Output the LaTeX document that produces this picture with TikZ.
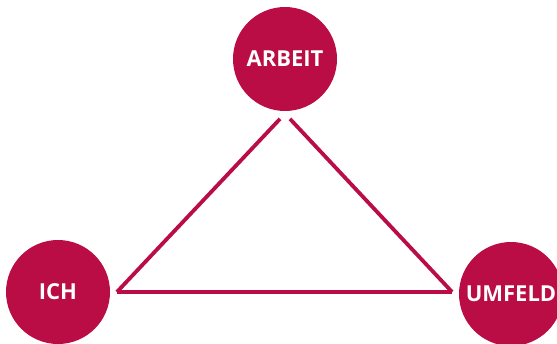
\documentclass[tikz,border=0pt]{standalone}
\usepackage{fontspec}
\setsansfont{Open Sans}
\usetikzlibrary{calc}
\definecolor{berry}{HTML}{BA0C45}

\begin{document}
\begin{tikzpicture}[x=1pt,y=-1pt,line width=3.8pt]
\useasboundingbox (0,0) rectangle (557,343);
\tikzset{ball/.style={circle,fill=berry,minimum size=104pt,inner sep=0pt,text=white,font=\sffamily\bfseries\fontsize{22}{22}\selectfont}}
\node[ball] (arbeit) at (285,59) {ARBEIT};
\node[ball] (ich) at (58,292) {ICH};
\node[ball] (umfeld) at (511,294) {UMFELD};
% corners of the triangle
\coordinate (topL) at ($(arbeit.south)+(-5,6)$);
\coordinate (topR) at ($(arbeit.south)+(5,6)$);
\coordinate (left) at ($(ich.east)+(5,0)$);
\coordinate (right) at ($(umfeld.west)+(-5,-2)$);
\draw[berry] (topL) -- (left);
\draw[berry] (left) -- (right);
\draw[berry] (topR) -- (right);
\end{tikzpicture}
\end{document}
